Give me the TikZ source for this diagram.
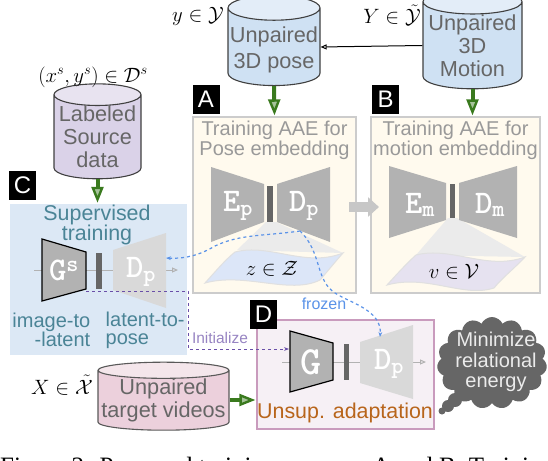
\documentclass[tikz,border=0pt]{standalone}
\usepackage{fontspec}
\setmainfont{Liberation Sans}
\newfontfamily\captionserif{Liberation Serif}
\usetikzlibrary{shapes, shapes.geometric, shapes.symbols, arrows.meta, positioning, calc}

\definecolor{posecyl}{HTML}{CFE1F3}
\definecolor{poseend}{HTML}{E3EDF8}
\definecolor{sourcecyl}{HTML}{DAD2E8}
\definecolor{sourceend}{HTML}{E8E3F0}
\definecolor{targetcyl}{HTML}{ECD0DC}
\definecolor{targetend}{HTML}{F4E6EB}
\definecolor{flowgreen}{HTML}{3A7A1E}
\definecolor{tealtext}{HTML}{4A8496}
\definecolor{frozenblue}{HTML}{5B93E8}
\definecolor{initpurple}{HTML}{6A4FA8}
\definecolor{adaptorange}{HTML}{B8651B}
\definecolor{aecream}{HTML}{FFFAEE}
\definecolor{supblue}{HTML}{DCE8F5}
\definecolor{adaptpink}{HTML}{F6F0F5}
\definecolor{adaptedge}{HTML}{C99BBD}
\definecolor{zfill}{HTML}{DCE6F8}
\definecolor{vfill}{HTML}{E6E2F0}

\begin{document}
\begin{tikzpicture}[x=1pt, y=-1pt]
    \tikzstyle{datacyl} = [draw=black!75, line width=1.1pt, cylinder, shape border rotate=90, cylinder uses custom fill, text=black!60, align=center, inner sep=0pt, font=\fontsize{21.7}{23}\selectfont]
    \tikzstyle{panel} = [rectangle, minimum width=10pt, inner sep=0pt]
    \tikzstyle{tag} = [fill=black, text=white, minimum width=27pt, minimum height=29pt, inner sep=0pt, font=\fontsize{24}{24}\selectfont]
    \tikzstyle{flow} = [draw=flowgreen, line width=4pt, -{Triangle[length=16pt, width=12pt, line width=2.4pt, fill=flowgreen!45!white]}, shorten >=1pt]
    \tikzstyle{netname} = [text=white, inner sep=0pt, font=\ttfamily\bfseries\fontsize{33}{33}\selectfont]
    \tikzstyle{head} = [inner sep=0pt, align=center]
    \tikzstyle{thin line} = [draw=black!30, line width=1pt, -{Triangle[length=6pt, width=5pt, open]}]

    \useasboundingbox (0,0) rectangle (548,460);

    % panels
    \node[panel, fill=aecream, draw=black!20, line width=1.3pt, minimum width=163pt, minimum height=176pt] (poseae) at (274.5,205) {};
    \node[panel, fill=aecream, draw=black!20, line width=1.3pt, minimum width=169pt, minimum height=176pt] (motionae) at (455.5,205) {};
    \node[panel, fill=supblue, minimum width=177pt, minimum height=151pt] (sup) at (98.5,279.5) {};
    \node[panel, fill=adaptpink, draw=adaptedge, line width=1.3pt, minimum width=177pt, minimum height=109pt] (adapt) at (345.5,374.5) {};

    % tags
    \node[tag] (tagA) at (206,99.5) {A};
    \node[tag] (tagB) at (385.5,99.5) {B};
    \node[tag] (tagC) at (22.5,185) {C};
    \node[tag] (tagD) at (263.5,314.5) {D};

    % data
    \node[datacyl, cylinder body fill=posecyl, cylinder end fill=poseend, minimum width=92pt, minimum height=90pt, shape aspect=.28] (pose) at (274,47) {\phantom{Unpaired}};
    \node[head, text=black!60, font=\fontsize{21.7}{26}\selectfont] (posetext) at (274,50) {Unpaired\\3D pose};
    \node[datacyl, cylinder body fill=posecyl, cylinder end fill=poseend, minimum width=99pt, minimum height=89pt, shape aspect=.28] (motion) at (472.5,45.5) {Unpaired\\3D\\Motion};
    \node[datacyl, cylinder body fill=sourcecyl, cylinder end fill=sourceend, minimum width=87pt, minimum height=83pt, shape aspect=.28] (source) at (97.5,137) {Labeled\\Source\\data};
    \node[datacyl, draw=black!65, cylinder body fill=targetcyl, cylinder end fill=targetend, minimum width=131pt, minimum height=59pt, shape aspect=.13] (target) at (163.5,400.5) {Unpaired\\target videos};

    \node[head] (poseset) at (198,16) {\huge $y\in\mathcal{Y}$};
    \node[head] (motionset) at (392,15) {\huge $Y\in\tilde{\mathcal{Y}}$};
    \node[head] (sourceset) at (93,77) {\huge $(x^s,y^s)\in\mathcal{D}^s$};
    \node[head] (targetset) at (62,385) {\huge $X\in\tilde{\mathcal{X}}$};

    % flows into the panels
    \draw[draw=black, line width=1pt, -{Triangle[length=6pt, width=5pt, open]}] (motion.west) -- (pose.east);
    \draw[flow] (pose.south) -- (poseae.north);
    \draw[flow] (motion.south) -- (motion.south |- motionae.north);
    \draw[flow] (source.south) -- (source.south |- sup.north);
    \draw[flow] (target.east |- 0,400) -- (adapt.west |- 0,400);

    % A
    \node[head, text=black!40, font=\fontsize{20}{18}\selectfont] (poseaetitle) at (274.5,140.5) {Training AAE for\\Pose embedding};
    \fill[black!8] (266,222) -- (237,250) -- (343,253) -- (276,222) -- cycle;
    \fill[zfill, draw=black!12, line width=1pt] (205,283) .. controls (215,272) and (225,260) .. (235,252) .. controls (270,243) and (305,268) .. (343,253) .. controls (335,262) and (327,272) .. (320,280) .. controls (290,295) and (245,272) .. (205,283) -- cycle;
    \fill[black!30] (211,167) -- (264,184) -- (264,222) -- (211,242) -- cycle;
    \fill[black!30] (330,167) -- (277,184) -- (277,222) -- (330,242) -- cycle;
    \fill[black!60] (267,186) rectangle (273,222);
    \node[netname] (Ep) at (238,206) {E\textsubscript{p}};
    \node[netname] (Dp) at (304,206) {D\textsubscript{p}};
    \node[head] (zset) at (272,269) {\huge $z\in\mathcal{Z}$};

    % B
    \node[head, text=black!40, font=\fontsize{20}{18}\selectfont] (motionaetitle) at (455.5,140.5) {Training AAE for\\motion embedding};
    \fill[black!8] (448,218) -- (416,255) -- (525,257) -- (457,218) -- cycle;
    \fill[vfill, draw=black!12, line width=1pt] (387,285) .. controls (397,274) and (407,263) .. (416,255) .. controls (452,246) and (487,271) .. (525,257) .. controls (517,266) and (502,278) .. (494,288) .. controls (463,298) and (427,274) .. (387,285) -- cycle;
    \fill[black!30] (389,166) -- (446,183) -- (446,220) -- (389,238) -- cycle;
    \fill[black!30] (517,166) -- (459,183) -- (459,220) -- (517,238) -- cycle;
    \fill[black!60] (450,184) rectangle (455,218);
    \node[netname] (Em) at (420,205) {E\textsubscript{m}};
    \node[netname] (Dm) at (490,205) {D\textsubscript{m}};
    \node[head] (vset) at (454,272) {\huge $v\in\mathcal{V}$};

    \coordinate (aeout) at (349,207);
    \coordinate (aein) at (379,207);
    \draw[draw=black!22, line width=10pt, -{Triangle[length=11pt, width=19pt]}] (aeout) -- (aein);

    % C
    \node[head, text=tealtext, font=\fontsize{21.4}{20}\selectfont] (suptitle) at (97,224.5) {Supervised\\training};
    \coordinate (supin) at (34,270);
    \coordinate (supout) at (178,270);
    \draw[thin line] (supin) -- (supout);
    \fill[black!30, draw=black, line width=1.2pt] (42,239) -- (86,252) -- (86,289) -- (42,301) -- cycle;
    \fill[black!15] (166,233) -- (113,250) -- (113,290) -- (166,308) -- cycle;
    \fill[black!60] (96,253) rectangle (102,289);
    \node[netname] (Gs) at (64,270) {G\textsuperscript{s}};
    \node[netname] (DpC) at (141,272) {D\textsubscript{p}};
    \node[head, text=tealtext, font=\fontsize{20}{18}\selectfont, align=right, anchor=east] (imgtolat) at (90.5,330) {image-to\\-latent};
    \node[head, text=tealtext, font=\fontsize{20}{18}\selectfont, align=left, anchor=west] (lattopose) at (105.5,330) {latent-to-\\pose};

    % D
    \coordinate (adaptin) at (282,362);
    \coordinate (adaptout) at (426,362);
    \draw[thin line] (adaptin) -- (adaptout);
    \fill[black!30, draw=black, line width=1.2pt] (290,331) -- (333,343) -- (333,380) -- (290,392) -- cycle;
    \fill[black!15] (413,325) -- (360,342) -- (360,383) -- (413,399) -- cycle;
    \fill[black!60] (344,344) rectangle (349,380);
    \node[netname, font=\ttfamily\bfseries\fontsize{40}{40}\selectfont] (G) at (311,362) {G};
    \node[netname] (DpD) at (389,364) {D\textsubscript{p}};
    \node[head, text=adaptorange, font=\fontsize{21.4}{22}\selectfont] (adapttitle) at (345,413) {Unsup. adaptation};

    % initialise and frozen weights
    \coordinate (initout) at (86,291);
    \coordinate (initin) at (289,349);
    \draw[draw=initpurple, dashed, line width=.9pt, -{Stealth[length=5pt]}] (initout) -- (188,291) -- (188,349) -- (initin);
    \node[head, text=initpurple!70!white, font=\fontsize{15.5}{15.5}\selectfont] (init) at (220,338) {Initialize};

    \coordinate (fork) at (300,231);
    \coordinate (frozenC) at (166,258);
    \coordinate (frozenD) at (380,337);
    \draw[draw=frozenblue, dashed, line width=1.2pt, -{Stealth[length=5pt]}] (fork) .. controls (265,236) and (240,234) .. (215,246) .. controls (200,255) and (185,259) .. (frozenC);
    \draw[draw=frozenblue, dashed, line width=1.2pt, -{Stealth[length=5pt]}] (fork) .. controls (322,252) and (315,280) .. (335,293) .. controls (350,303) and (382,310) .. (frozenD);
    \node[head, text=frozenblue, font=\fontsize{16}{16}\selectfont] (frozen) at (324,304) {frozen};

    % thought bubble
    \node[cloud, cloud puffs=15, cloud puff arc=130, aspect=1.25, fill=black!60, minimum width=110pt, minimum height=92pt, inner sep=0pt] (bubble) at (492,363) {};
    \fill[black!60] (455,400) circle (7pt) (448,406) circle (6pt) (442,411) circle (3.5pt);
    \node[head, text=black!8, font=\fontsize{20}{20.2}\selectfont] (bubbletext) at (496,362) {Minimize\\relational\\energy};

    \node[anchor=north west, inner sep=0pt, font=\captionserif\fontsize{25}{25}\selectfont] (caption) at (0,457) {Figure 2: Proposed training process. A and B: Training};
\end{tikzpicture}
\end{document}
